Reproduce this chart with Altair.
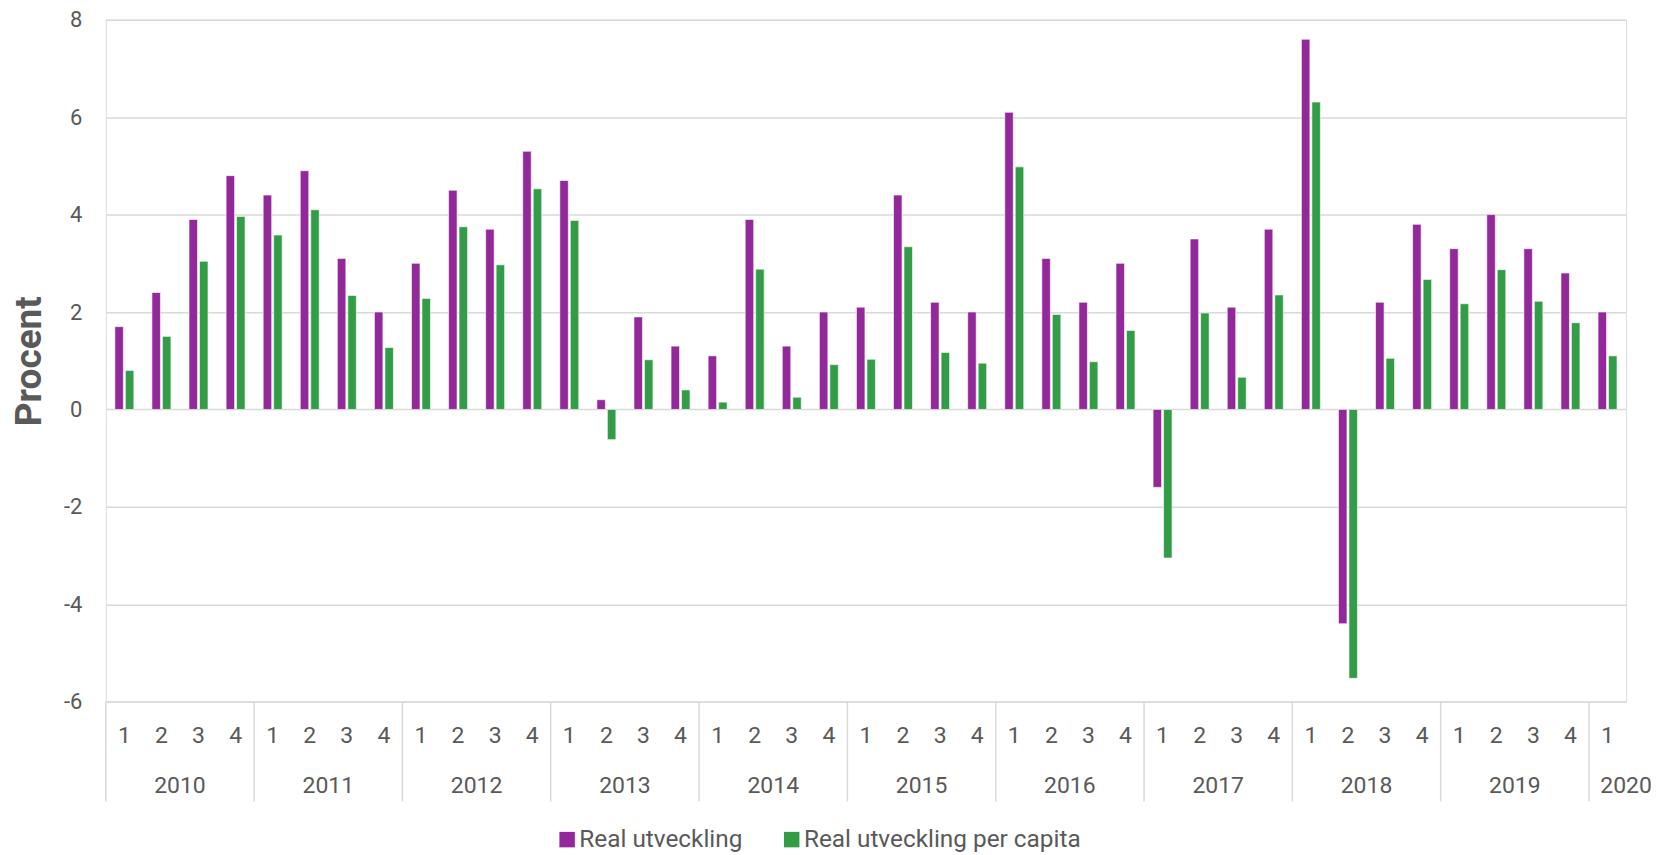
import altair as alt
import pandas as pd

years = [2010]*4 + [2011]*4 + [2012]*4 + [2013]*4 + [2014]*4 + [2015]*4 + \
        [2016]*4 + [2017]*4 + [2018]*4 + [2019]*4 + [2020]
quarters = [1, 2, 3, 4]*10 + [1]

real = [1.7, 2.4, 3.9, 4.8, 4.4, 4.9, 3.1, 2.0, 3.0, 4.5, 3.7, 5.3,
        4.7, 0.2, 1.9, 1.3, 1.1, 3.9, 1.3, 2.0, 2.1, 4.4, 2.2, 2.0,
        6.1, 3.1, 2.2, 3.0, -1.6, 3.5, 2.1, 3.7, 7.6, -4.4, 2.2, 3.8,
        3.3, 4.0, 3.3, 2.8, 2.0]
per_capita = [0.80, 1.50, 3.04, 3.96, 3.58, 4.10, 2.34, 1.27, 2.28, 3.75, 2.97, 4.53,
              3.88, -0.62, 1.02, 0.40, 0.15, 2.88, 0.25, 0.92, 1.03, 3.34, 1.17, 0.95,
              4.98, 1.95, 0.98, 1.62, -3.05, 1.98, 0.66, 2.35, 6.31, -5.52, 1.05, 2.67,
              2.17, 2.87, 2.22, 1.78, 1.10]

series_names = ["Real utveckling", "Real utveckling per capita"]
series_colors = ["#92289A", "#339C47"]
y_ticks = [-6, -4, -2, 0, 2, 4, 6, 8]

keys = [f"{y}-{q}" for y, q in zip(years, quarters)]
rows = []
for k, y, q, a, b in zip(keys, years, quarters, real, per_capita):
    rows.append({"key": k, "year": str(y), "quarter": q, "series": series_names[0], "value": a})
    rows.append({"key": k, "year": str(y), "quarter": q, "series": series_names[1], "value": b})
df = pd.DataFrame(rows)

W = 41 * 37.15
H = 683.2
TEXT = "#595959"
GRID = "#D9D9D9"

xscale = alt.Scale(domain=keys, paddingInner=0, paddingOuter=0)

bars = alt.Chart(df).mark_bar(stroke="white", strokeWidth=0.6).encode(
    x=alt.X("key:N", scale=xscale, sort=keys,
            axis=alt.Axis(title=None, labelExpr="split(datum.value, '-')[1]",
                          labelAngle=0, ticks=False, tickSize=0, domain=False,
                          labelPadding=34, labelBaseline="middle",
                          labelFontSize=23, labelColor=TEXT, labelFont="Roboto")),
    xOffset=alt.XOffset("series:N", sort=series_names,
                        scale=alt.Scale(paddingInner=0.19, paddingOuter=0.864)),
    y=alt.Y("value:Q", scale=alt.Scale(domain=[-6, 8], nice=False, zero=False),
            axis=alt.Axis(values=y_ticks, title="Procent", domain=False, ticks=False,
                          tickSize=0, labelPadding=24, labelFontSize=22, labelColor=TEXT,
                          labelFont="Roboto", labelExpr="datum.value + ''",
                          gridColor=GRID, gridWidth=1.5,
                          titleFontSize=37, titleFont="Roboto", titleFontWeight="bold",
                          titleColor=TEXT, titleX=-76, titleY=H / 2,
                          titleAngle=270, titleAlign="center", titleBaseline="middle")),
    color=alt.Color("series:N", sort=series_names,
                    scale=alt.Scale(domain=series_names, range=series_colors),
                    legend=alt.Legend(title=None, orient="none", legendX=450, legendY=809,
                                      direction="horizontal", symbolType="square",
                                      symbolSize=240, symbolStrokeWidth=0,
                                      labelFontSize=24.4, labelColor=TEXT, labelFont="Roboto",
                                      labelOffset=0, columnPadding=37, labelLimit=0)),
)

base_one = alt.Chart(df).transform_filter(alt.datum.series == series_names[0])

dividers = base_one.transform_filter(alt.datum.quarter == 1).mark_rule(
    color=GRID, strokeWidth=1.5
).encode(
    x=alt.X("key:N", scale=xscale, sort=keys, bandPosition=0),
    y=alt.value(H),
    y2=alt.value(H + 100),
)

year_labels = base_one.transform_filter(
    (alt.datum.quarter == 2) | (alt.datum.year == "2020")
).mark_text(fontSize=23, color=TEXT, font="Roboto", baseline="middle", align="center").encode(
    x=alt.X("key:N", scale=xscale, sort=keys, bandPosition=1),
    y=alt.value(H + 84.5),
    text="year:N",
)

chart = alt.layer(bars, dividers, year_labels).properties(
    width=W, height=H,
    autosize=alt.AutoSizeParams(type="none"),
    padding={"left": 98, "top": 11, "right": 30, "bottom": 152},
).configure_view(strokeWidth=0).configure(font="Roboto")

chart.save("out.html", embed_options={"renderer": "svg", "actions": False})
